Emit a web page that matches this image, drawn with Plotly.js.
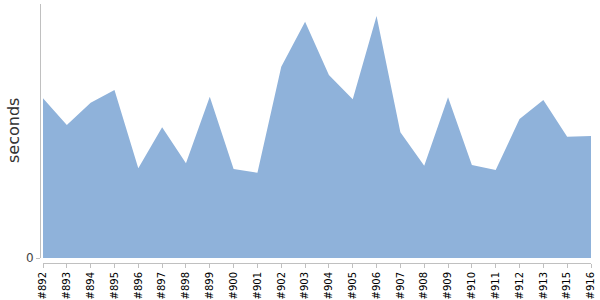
<!DOCTYPE html>
<html>
<head>
<meta charset="utf-8">
<script src="https://cdn.plot.ly/plotly-3.0.1.min.js"></script>
<style>html,body{margin:0;padding:0;background:#fff;}#chart{width:600px;height:300px;}</style>
</head>
<body>
<div id="chart"></div>
<script>
var builds = ['#892','#893','#894','#895','#896','#897','#898','#899','#900','#901','#902','#903','#904','#905','#906','#907','#908','#909','#910','#911','#912','#913','#915','#916'];
var seconds = [159.7,133,155.3,168,89.7,130.7,94.7,161.3,89,85.3,191.3,236.3,183,158.7,242,125.7,92.3,160.7,93,88,139,158,121.3,122];
var yTitle = 'seconds';

var trace = {
  x: builds,
  y: seconds,
  type: 'scatter',
  mode: 'lines',
  fill: 'tozeroy',
  fillcolor: 'rgb(143,178,218)',
  line: {width: 0, color: 'rgb(143,178,218)'},
  hoverinfo: 'x+y'
};

var layout = {
  width: 600, height: 300,
  margin: {l: 40, r: 9, t: 4, b: 37, pad: 0},
  paper_bgcolor: '#fff', plot_bgcolor: '#fff',
  showlegend: false,
  font: {family: 'DejaVu Sans, Verdana, sans-serif', color: '#000'},
  xaxis: {
    type: 'category',
    domain: [3/551, 1],
    range: [0, builds.length - 1],
    anchor: 'free', position: 0,
    showgrid: false, zeroline: false,
    showline: true, linecolor: '#c0c0c0', linewidth: 1,
    ticks: 'outside', ticklen: 4, tickcolor: '#c0c0c0',
    tickangle: -90,
    tickfont: {size: 10, color: '#000', family: 'DejaVu Sans, Verdana, sans-serif'}
  },
  yaxis: {
    domain: [5/259, 1],
    range: [0, 254],
    anchor: 'free', position: 0,
    showgrid: false, zeroline: false,
    showline: true, linecolor: '#c0c0c0', linewidth: 1,
    ticks: 'outside', ticklen: 4, tickcolor: '#c0c0c0',
    tickvals: [0], ticktext: ['0'],
    tickfont: {size: 12, color: '#444'}
  },
  annotations: [{
    text: yTitle,
    xref: 'paper', yref: 'paper',
    x: 0, y: 0.5116,
    xshift: -26.5,
    xanchor: 'center', yanchor: 'middle',
    textangle: -90,
    showarrow: false,
    font: {size: 16, color: '#333', family: 'DejaVu Sans, Verdana, sans-serif'}
  }]
};

Plotly.newPlot('chart', [trace], layout, {displayModeBar: false, staticPlot: true});
</script>
</body>
</html>
